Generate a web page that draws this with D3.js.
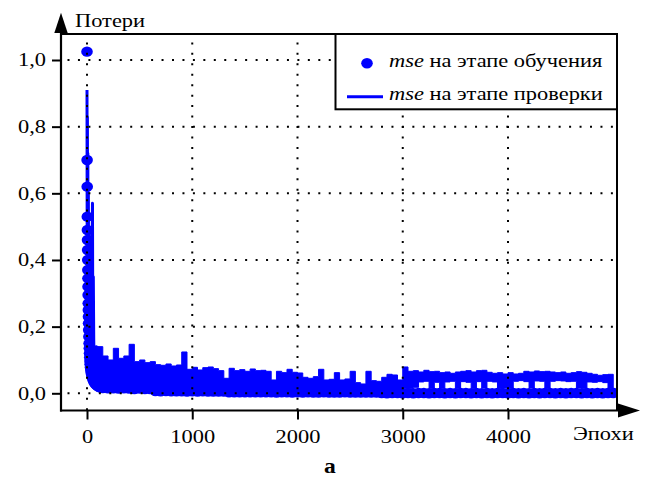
<!DOCTYPE html>
<html><head><meta charset="utf-8">
<script src="https://cdn.jsdelivr.net/npm/d3@7"></script>
<style>body{margin:0;background:#fff}svg{display:block}</style>
</head><body>
<svg id="chart" width="646" height="483"></svg>
<script>
// ---- data ----
const xTicks = [0, 1000, 2000, 3000, 4000];
const yTicks = [0, 0.2, 0.4, 0.6, 0.8, 1.0];
const yTickLabels = ["0,0", "0,2", "0,4", "0,6", "0,8", "1,0"];
const yAxisTitle = "Потери";
const xAxisTitle = "Эпохи";
const panelLabel = "a";
const legendNames = [" на этапе обучения", " на этапе проверки"];

// training mse (dots), first epochs
const trainEarlyEpochs = [0,1,2,3,4,5,6,7,8,9,10,11,12,13,14,15,16,18,20,22,24,26,28,30,33,36,40,45,50,56,63,70,80,90,100,115,130];
const trainEarlyLoss = [1.025,.70,.62,.53,.49,.46,.43,.40,.37,.345,.32,.295,.27,.25,.23,.21,.19,.17,.15,.135,.12,.108,.097,.087,.078,.07,.062,.055,.048,.042,.037,.032,.028,.025,.022,.019,.017];
// training mse, every 50 epochs from 150 to 5000
const trainEpochs = d3.range(150, 5001, 50);
const trainLoss = [
 .016,.015,.015,.014,.015,.014,.013,.014,.013,.013,
 .007,.006,.007,.006,.006,.006,.005,.006,.005,.006,.005,.005,.005,.005,
 .003,.003,.003,.003,.003,.003,.003,.003,.003,.002,
 .003,.003,.002,.003,.002,.003,.002,.002,.003,.002,
 .002,.002,.003,.002,.002,.002,.002,.002,.002,
 .001,.000,.001,.001,.000,.001,.000,.001,.001,.000,
 .001,.001,.000,.001,.000,.001,.001,.000,.001,.000,
 .001,.000,.001,.001,.000,.001,.000,.001,.000,.001,
 .000,.001,.001,.000,.001,.000,.001,.001,.000,.001,
 .000,.001,.000,.001,.001
];

// validation mse (line), first epochs
const valEarlyEpochs = [0,2,4,6,8,10,13,16,20,24,28,32,36,40,44,48,52,56,60,64,68,72,76,80,85,90,95,100];
const valEarlyLoss = [.91,.35,.83,.30,.72,.25,.60,.22,.48,.18,.42,.15,.36,.12,.30,.40,.57,.10,.35,.16,.08,.14,.05,.12,.04,.14,.03,.14];
// validation mse after epoch 100: max / min within each 50-epoch window
const valWinEpochs = d3.range(100, 5001, 50);
const valWinMax = [
 .140,.112,.100,.135,.105,.112,.147,.095,.100,.092,
 .095,.086,.084,.088,.082,.085,.124,.072,.078,.070,
 .077,.079,.074,.068,.045,.075,.068,.071,.066,.073,
 .068,.069,.066,.040,.066,.062,.072,.063,.061,.048,
 .045,.050,.072,.040,.042,.062,.040,.043,.066,.032,
 .028,.066,.038,.036,.048,.057,.055,.040,.079,.066,
 .068,.064,.069,.065,.066,.062,.064,.060,.064,.066,
 .068,.064,.068,.069,.063,.060,.062,.058,.062,.058,
 .060,.066,.064,.067,.065,.066,.064,.062,.064,.060,
 .062,.065,.063,.060,.057,.054,.056,.057,.057
];
const valWinMin = [
 .020,.018,.015,.016,.014,.015,.013,.014,.012,.013,
 .010,.011,.010,.009,.010,.009,.010,.008,.009,.008,
 .009,.008,.008,.007,.008,.007,.008,.007,.007,.006,
 .007,.006,.007,.006,.007,.006,.006,.007,.006,.006,
 .006,.007,.006,.006,.006,.007,.006,.006,.006,.006,
 .006,.006,.006,.006,.006,.006,.006,.006,.015,.015,
 .018,.034,.036,.015,.033,.015,.034,.036,.015,.035,
 .033,.015,.035,.016,.036,.034,.015,.016,.015,.036,
 .038,.035,.016,.037,.036,.015,.036,.038,.037,.035,
 .036,.016,.015,.034,.033,.035,.032,.015,.015
];

// ---- drawing ----
const BLUE = "#0000ff";
const FONT = "'Liberation Serif','Times New Roman',Times,serif";
const SX = 1.18; // horizontal stretch of the text in the picture
const svg = d3.select("#chart");
const L = 61, R = 617, T = 34, B = 410.5;

const x = d3.scaleLinear().domain([0, 4000]).range([87, 508]);
const y = d3.scaleLinear().domain([0, 1]).range([393.3, 60]);

svg.append("defs").append("clipPath").attr("id", "plotclip")
  .append("rect").attr("x", L).attr("y", T).attr("width", R - L).attr("height", B - T);

const data = svg.append("g").attr("clip-path", "url(#plotclip)");

// validation band (min-max per window)
const win = valWinEpochs.map((e, i) => ({e, hi: valWinMax[i], lo: valWinMin[i]}));
data.append("path").datum(win)
  .attr("d", d3.area().x(d => x(d.e)).y0(d => y(d.lo)).y1(d => y(d.hi)).curve(d3.curveStepAfter))
  .attr("fill", BLUE).attr("stroke", BLUE).attr("stroke-width", 1).attr("stroke-linejoin", "round");

// validation early line
data.append("path").datum(valEarlyEpochs.map((e, i) => [e, valEarlyLoss[i]]))
  .attr("d", d3.line().x(d => x(d[0])).y(d => y(d[1])))
  .attr("fill", "none").attr("stroke", BLUE).attr("stroke-width", 3).attr("stroke-linejoin", "round");

// training dots
const trainAll = trainEarlyEpochs.map((e, i) => [e, trainEarlyLoss[i]])
  .concat(trainEpochs.map((e, i) => [e, trainLoss[i]]));
data.selectAll("ellipse.tr").data(trainAll).join("ellipse").attr("class", "tr")
  .attr("cx", d => x(d[0])).attr("cy", d => y(d[1]))
  .attr("rx", 5.8).attr("ry", 5.2).attr("fill", BLUE);

// grid (dotted, above data)
const grid = svg.append("g").attr("stroke", "#000").attr("stroke-width", 2)
  .attr("stroke-dasharray", "2,8.45").attr("fill", "none");
grid.selectAll("line.gx").data(xTicks).join("line").attr("class", "gx")
  .attr("x1", d => x(d)).attr("x2", d => x(d)).attr("y1", T).attr("y2", B)
  .attr("stroke-dashoffset", 2.05);
grid.selectAll("line.gy").data(yTicks).join("line").attr("class", "gy")
  .attr("x1", L).attr("x2", R).attr("y1", d => y(d)).attr("y2", d => y(d))
  .attr("stroke-dashoffset", 3.95);

// frame top / right
svg.append("path").attr("d", `M${L},${T}H${R}V${B}`).attr("fill", "none")
  .attr("stroke", "#000").attr("stroke-width", 2);

// axes via d3
const yAxis = svg.append("g").attr("transform", `translate(${L},0)`)
  .call(d3.axisLeft(y).tickValues(yTicks).tickFormat((d, i) => yTickLabels[i]).tickSize(9));
const xAxis = svg.append("g").attr("transform", `translate(0,${B})`)
  .call(d3.axisBottom(x).tickValues(xTicks).tickFormat(d => String(d)).tickSize(9));
[yAxis, xAxis].forEach(a => {
  a.select(".domain").remove();
  a.selectAll(".tick line").attr("stroke", "#000").attr("stroke-width", 2);
  a.selectAll(".tick text").attr("fill", "#000").style("font-family", FONT).style("font-size", "19px");
});
yAxis.selectAll(".tick text").attr("x", null).attr("dy", "0.3em")
  .attr("transform", `translate(-15,0) scale(${SX},1)`);
xAxis.selectAll(".tick text").attr("y", null).attr("dy", null)
  .attr("transform", `translate(0,32.2) scale(${SX},1)`);

// axis lines with arrows
svg.append("line").attr("x1", L).attr("x2", L).attr("y1", T - 1).attr("y2", B + 1)
  .attr("stroke", "#000").attr("stroke-width", 2.2);
svg.append("line").attr("x1", L - 1).attr("x2", 620).attr("y1", B).attr("y2", B)
  .attr("stroke", "#000").attr("stroke-width", 2.2);
svg.append("path").attr("d", `M${L},12.7L${L - 6.7},33L${L + 6.7},33Z`).attr("fill", "#000");
svg.append("path").attr("d", `M640,${B}L618,${B - 7}L618,${B + 7}Z`).attr("fill", "#000");

// axis titles
const stext = (str, tx, ty, anchor, size, weight) => svg.append("text")
  .attr("transform", `translate(${tx},${ty}) scale(${SX},1)`)
  .attr("text-anchor", anchor).style("font-family", FONT).style("font-size", size + "px")
  .style("font-weight", weight || "normal").attr("fill", "#000").text(str);
stext(yAxisTitle, 75, 26.7, "start", 19);
stext(xAxisTitle, 573, 440, "start", 19);
stext(panelLabel, 330, 473, "middle", 20, "bold");

// legend
const lg = svg.append("g");
lg.append("rect").attr("x", 335.5).attr("y", T).attr("width", R - 335.5).attr("height", 75.3)
  .attr("fill", "#fff").attr("stroke", "#000").attr("stroke-width", 2);
lg.append("ellipse").attr("cx", 367).attr("cy", 63.3).attr("rx", 5.8).attr("ry", 5.2).attr("fill", BLUE);
lg.append("line").attr("x1", 347).attr("x2", 383).attr("y1", 96.7).attr("y2", 96.7)
  .attr("stroke", BLUE).attr("stroke-width", 3);
[66.7, 100.3].forEach((by, i) => {
  const t = lg.append("text").attr("transform", `translate(389,${by}) scale(${SX},1)`)
    .style("font-family", FONT).style("font-size", "19px").attr("fill", "#000");
  t.append("tspan").style("font-style", "italic").text("mse");
  t.append("tspan").text(legendNames[i]);
});
</script>
</body></html>
